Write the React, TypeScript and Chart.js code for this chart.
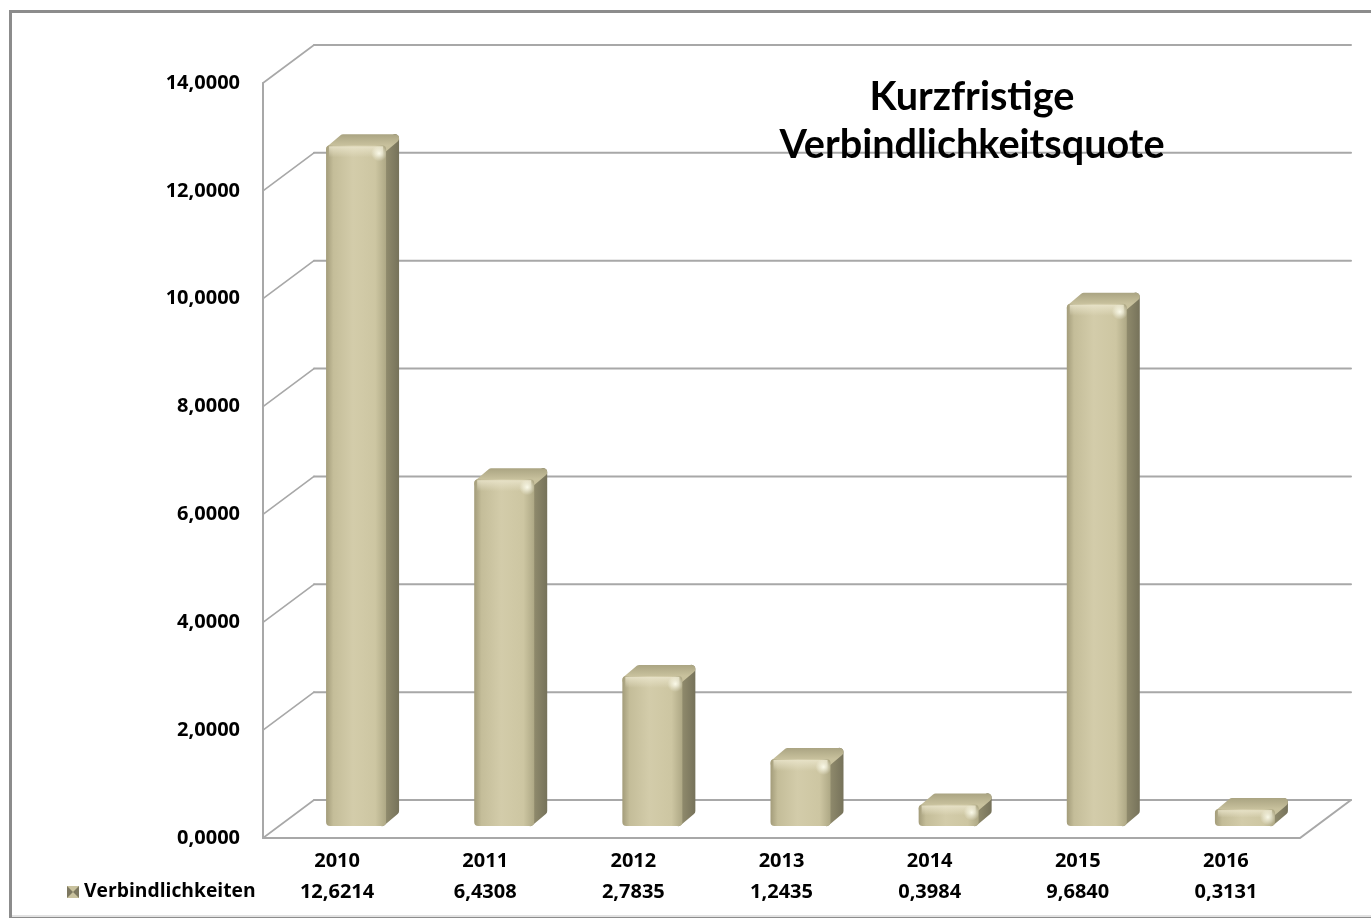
import React, { useEffect, useRef } from "react";
import { Chart, registerables } from "chart.js";

Chart.register(...registerables);

const years = ["2010", "2011", "2012", "2013", "2014", "2015", "2016"];
const verbindlichkeiten = [12.6214, 6.4308, 2.7835, 1.2435, 0.3984, 9.684, 0.3131];
const seriesLabel = "Verbindlichkeiten";
const titleLines = ["Kurzfristige", "Verbindlichkeitsquote"];
const yMin = 0;
const yMax = 14;
const yStep = 2;

const FONT = "'Open Sans', Lato, sans-serif";
const TITLE_FONT = "Lato, 'Open Sans', sans-serif";
const fmt = (v: number) => v.toFixed(4).replace(".", ",");

// 3D geometry (pixels)
const WALL_DX = 51;
const WALL_DY = -38;
const BAR_SHIFT_X = 19;
const BAR_SHIFT_Y = -12;
const BAR_DX = 13;
const BAR_DY = -11;
const GRID = "#a8a8a8";

function roundedPoly(ctx: CanvasRenderingContext2D, pts: number[][], fill: any, r: number) {
  ctx.save();
  ctx.beginPath();
  pts.forEach((p, i) => (i === 0 ? ctx.moveTo(p[0], p[1]) : ctx.lineTo(p[0], p[1])));
  ctx.closePath();
  ctx.fillStyle = fill;
  ctx.strokeStyle = fill;
  ctx.lineJoin = "round";
  ctx.lineWidth = r * 2;
  ctx.fill();
  ctx.stroke();
  ctx.restore();
}

const decoPlugin = {
  id: "deco",
  beforeDraw(chart: any) {
    const { ctx, width, height } = chart;
    ctx.save();
    ctx.fillStyle = "#ffffff";
    ctx.fillRect(0, 0, width, height);
    ctx.strokeStyle = "#8c8c8c";
    ctx.lineWidth = 3;
    ctx.strokeRect(10.5, 11.5, width + 20, height - 15);
    ctx.strokeStyle = "#e2e2e2";
    ctx.lineWidth = 2;
    ctx.beginPath();
    ctx.moveTo(12, height - 4);
    ctx.lineTo(width, height - 4);
    ctx.stroke();
    ctx.restore();
  },
  beforeDatasetsDraw(chart: any) {
    const { ctx, chartArea, scales } = chart;
    const ys = scales.y;
    const L = chartArea.left;
    const R = chartArea.right;
    ctx.save();
    ctx.lineCap = "round";
    for (let v = yMin; v <= yMax; v += yStep) {
      const py = ys.getPixelForValue(v);
      ctx.strokeStyle = GRID;
      ctx.lineWidth = 2;
      ctx.beginPath();
      ctx.moveTo(L + WALL_DX, py + WALL_DY);
      ctx.lineTo(R + WALL_DX, py + WALL_DY);
      ctx.stroke();
      ctx.lineWidth = 1.6;
      ctx.beginPath();
      ctx.moveTo(L, py);
      ctx.lineTo(L + WALL_DX, py + WALL_DY);
      ctx.stroke();
    }
    ctx.lineWidth = 2;
    ctx.beginPath();
    ctx.moveTo(L, ys.getPixelForValue(yMax));
    ctx.lineTo(L, ys.getPixelForValue(yMin));
    ctx.stroke();
    const p0 = ys.getPixelForValue(yMin);
    ctx.beginPath();
    ctx.moveTo(L, p0);
    ctx.lineTo(R, p0);
    ctx.lineTo(R + WALL_DX, p0 + WALL_DY);
    ctx.stroke();
    ctx.restore();
  },
  afterDatasetsDraw(chart: any) {
    const { ctx, scales } = chart;
    const meta = chart.getDatasetMeta(0);
    ctx.save();
    meta.data.forEach((bar: any) => {
      const w = bar.width;
      const l = bar.x - w / 2 + BAR_SHIFT_X;
      const r = l + w;
      const t = bar.y + BAR_SHIFT_Y;
      const b = bar.base + BAR_SHIFT_Y;
      const h = b - t;
      const rr = Math.min(4, h / 4);
      const sg = ctx.createLinearGradient(r, 0, r + BAR_DX, 0);
      sg.addColorStop(0, "#8f8a6c");
      sg.addColorStop(1, "#76725a");
      roundedPoly(ctx, [[r - rr, t + rr], [r + BAR_DX - rr, t + BAR_DY + rr], [r + BAR_DX - rr, b + BAR_DY - rr], [r - rr, b - rr]], sg, rr);
      const tg = ctx.createLinearGradient(0, t + BAR_DY, 0, t);
      tg.addColorStop(0, "#aaa482");
      tg.addColorStop(1, "#c8c19d");
      roundedPoly(ctx, [[l + rr, t + rr], [l + BAR_DX + rr, t + BAR_DY + rr], [r + BAR_DX - rr, t + BAR_DY + rr], [r - rr, t + rr]], tg, rr);
      const fg = ctx.createLinearGradient(l, 0, r, 0);
      fg.addColorStop(0, "#a39c7a");
      fg.addColorStop(0.12, "#c4bd99");
      fg.addColorStop(0.45, "#d3ccaa");
      fg.addColorStop(0.82, "#cdc6a2");
      fg.addColorStop(1, "#aea885");
      roundedPoly(ctx, [[l + rr, t + rr], [r - rr, t + rr], [r - rr, b - rr], [l + rr, b - rr]], fg, rr);
      const hg = ctx.createLinearGradient(0, t, 0, t + Math.min(12, h / 2));
      hg.addColorStop(0, "rgba(235,230,205,0.9)");
      hg.addColorStop(1, "rgba(235,230,205,0)");
      ctx.fillStyle = hg;
      ctx.fillRect(l + 3, t + 1, w - 6, Math.min(12, h / 2));
      const rad = ctx.createRadialGradient(r - 7, t + Math.min(8, h / 2), 0, r - 7, t + Math.min(8, h / 2), 8);
      rad.addColorStop(0, "rgba(255,255,240,0.9)");
      rad.addColorStop(1, "rgba(255,255,240,0)");
      ctx.fillStyle = rad;
      ctx.fillRect(r - 16, t, 16, Math.min(18, h));
    });
    ctx.restore();

    // title
    ctx.save();
    ctx.fillStyle = "#000";
    ctx.textAlign = "center";
    ctx.textBaseline = "middle";
    ctx.font = `bold 31px ${TITLE_FONT}`;
    const mw = ctx.measureText(titleLines[1]).width;
    const fs = 31 * 385 / mw;
    ctx.font = `bold ${fs.toFixed(1)}px ${TITLE_FONT}`;
    ctx.fillText(titleLines[0], 972, 97);
    ctx.fillText(titleLines[1], 972, 145);
    ctx.restore();

    // data table row
    const xs = scales.x;
    const rowY = 892;
    ctx.save();
    ctx.fillStyle = "#000";
    ctx.textBaseline = "middle";
    ctx.font = `bold 20px ${FONT}`;
    ctx.textAlign = "center";
    verbindlichkeiten.forEach((v, i) => {
      ctx.fillText(fmt(v), xs.getPixelForValue(i), rowY);
    });
    ctx.textAlign = "left";
    ctx.font = `bold 19.3px ${FONT}`;
    ctx.fillText(seriesLabel, 84, rowY);
    const kx = 67, ky = rowY - 6, ks = 12;
    ctx.fillStyle = "#c9c29e";
    ctx.fillRect(kx, ky, ks, ks);
    ctx.fillStyle = "#7d7860";
    ctx.beginPath();
    ctx.moveTo(kx, ky); ctx.lineTo(kx + ks / 2, ky + ks / 2); ctx.lineTo(kx, ky + ks); ctx.closePath(); ctx.fill();
    ctx.beginPath();
    ctx.moveTo(kx + ks, ky); ctx.lineTo(kx + ks / 2, ky + ks / 2); ctx.lineTo(kx + ks, ky + ks); ctx.closePath(); ctx.fill();
    ctx.restore();
  },
};

export default function App() {
  const ref = useRef<HTMLCanvasElement | null>(null);
  useEffect(() => {
    if (!ref.current) return;
    const chart = new Chart(ref.current, {
      type: "bar",
      data: {
        labels: years,
        datasets: [
          {
            label: seriesLabel,
            data: verbindlichkeiten,
            backgroundColor: "rgba(0,0,0,0)",
            borderWidth: 0,
            categoryPercentage: 1,
            barPercentage: 0.405,
          },
        ],
      },
      options: {
        animation: false,
        responsive: false,
        events: [],
        layout: { padding: { left: 0, right: 71, top: 83, bottom: 0 } },
        plugins: { legend: { display: false }, title: { display: false }, tooltip: { enabled: false } },
        scales: {
          x: {
            offset: true,
            grid: { display: false, drawTicks: false },
            border: { display: false },
            ticks: { color: "#000", font: { family: FONT, size: 20, weight: "bold" }, padding: 11, maxRotation: 0 },
            afterFit: (s: any) => { s.height = 82; },
          },
          y: {
            min: yMin,
            max: yMax,
            grid: { display: false, drawTicks: false },
            border: { display: false },
            ticks: {
              stepSize: yStep,
              color: "#000",
              font: { family: FONT, size: 20, weight: "bold" },
              padding: 23,
              callback: (v: any) => fmt(Number(v)),
            },
            afterFit: (s: any) => { s.width = 263; },
          },
        },
      },
      plugins: [decoPlugin],
    } as any);
    return () => chart.destroy();
  }, []);
  return (
    <div style={{ position: "absolute", left: 0, top: 0, width: 1371, height: 920 }}>
      <canvas ref={ref} width={1371} height={920} />
    </div>
  );
}
